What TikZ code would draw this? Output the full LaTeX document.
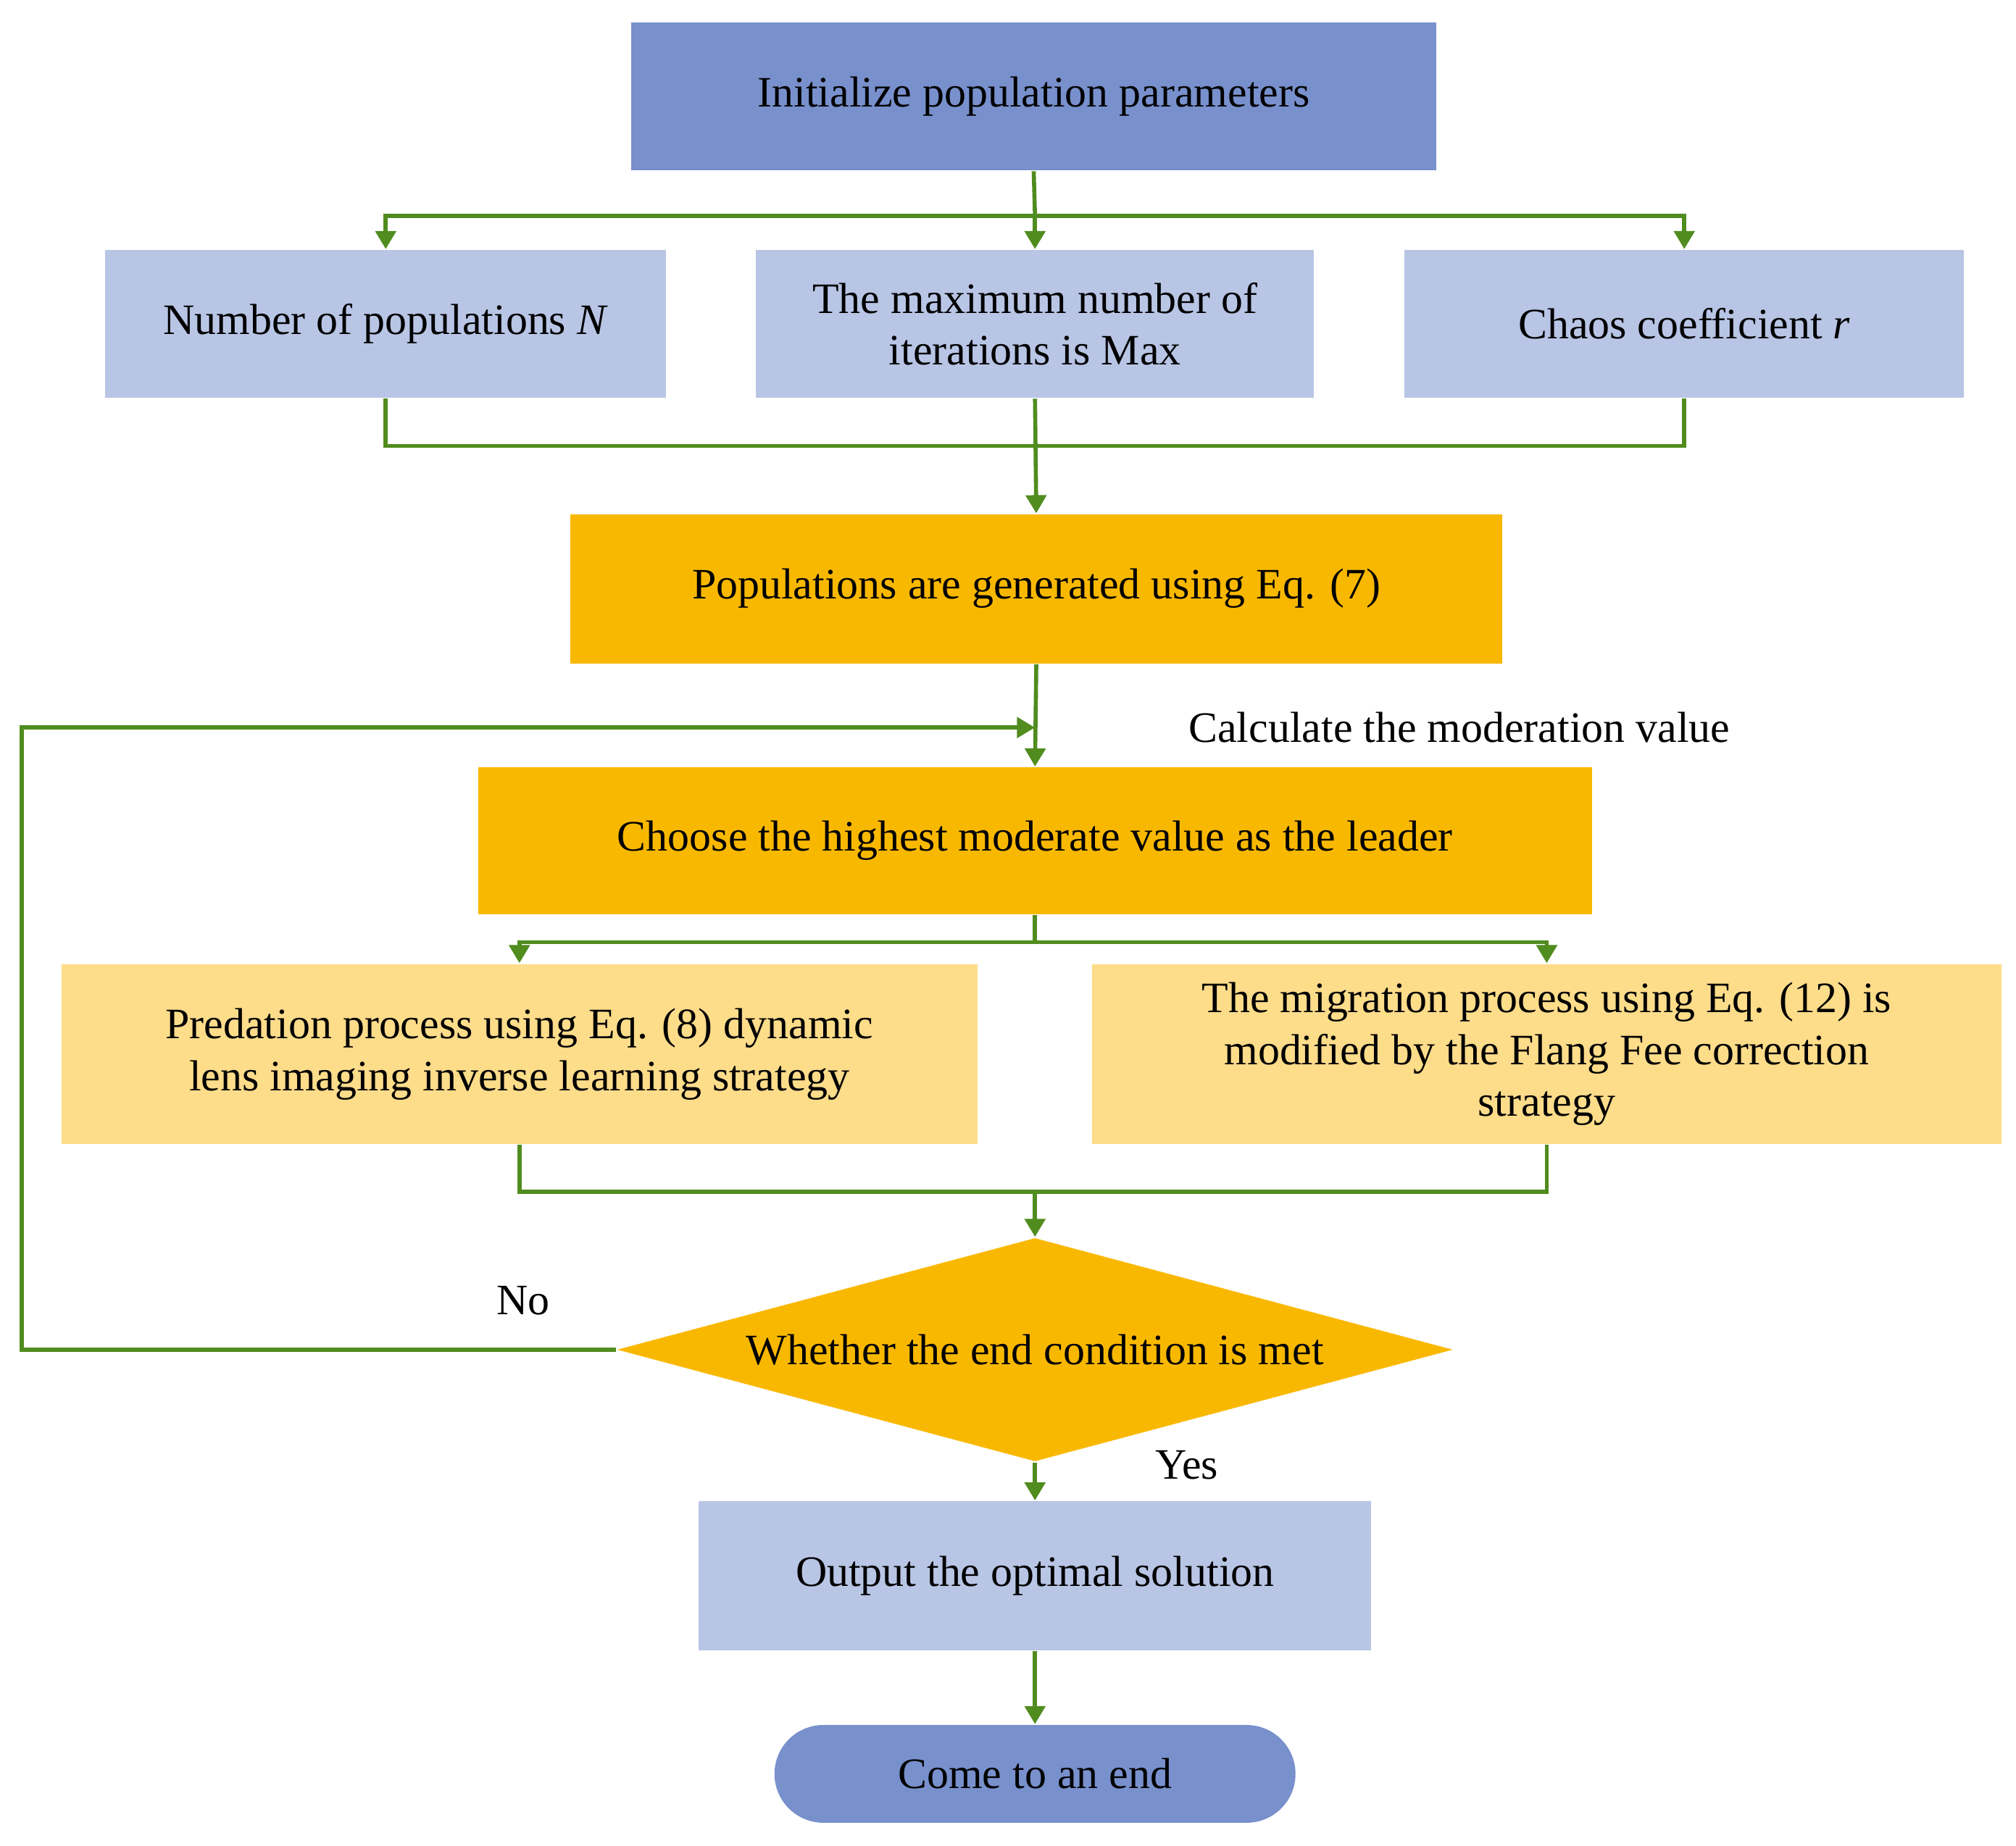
\documentclass[tikz,border=0pt]{standalone}
\usepackage{fontspec}
\setmainfont{Liberation Serif}
\usetikzlibrary{shapes.geometric,arrows.meta}
\definecolor{dblue}{RGB}{120,144,204}
\definecolor{lblue}{RGB}{184,197,229}
\definecolor{orng}{RGB}{249,184,0}
\definecolor{lyel}{RGB}{253,220,138}
\definecolor{grn}{RGB}{80,140,30}
\begin{document}
\begin{tikzpicture}[x=0.01cm,y=-0.01cm,
  every node/.style={font=\fontsize{9.6}{11.5}\selectfont},
  box/.style={draw=none,minimum height=1.15cm,align=center,inner sep=0},
  ln/.style={draw=grn,line width=0.9pt},
  ar/.style={ln,-{Triangle[length=4pt,width=4.5pt]}}]
\useasboundingbox (0,0) rectangle (1568,1436);
\node[box,fill=dblue,minimum width=6.26cm] (init) at (804,75) {Initialize population parameters};
\node[box,fill=lblue,minimum width=4.36cm] (n) at (300,252) {Number of populations \textit{N}};
\node[box,fill=lblue,minimum width=4.34cm] (m) at (805,252) {The maximum number of\\iterations is Max};
\node[box,fill=lblue,minimum width=4.35cm] (r) at (1310,252) {Chaos coefficient \textit{r}};
\node[box,fill=orng,minimum width=7.24cm,minimum height=1.16cm] (pop) at (806,458) {Populations are generated using Eq. (7)};
\node[box,fill=orng,minimum width=8.66cm,minimum height=1.14cm] (ch) at (805,654) {Choose the highest moderate value as the leader};
\node[box,fill=lyel,minimum width=7.12cm,minimum height=1.4cm] (pr) at (404,820) {Predation process using Eq. (8) dynamic\\lens imaging inverse learning strategy};
\node[box,fill=lyel,minimum width=7.07cm,minimum height=1.4cm] (mi) at (1203,820) {The migration process using Eq. (12) is\\modified by the Flang Fee correction\\strategy};
\node[diamond,fill=orng,minimum width=6.5cm,minimum height=1.74cm,inner sep=0,aspect=3.7] (d) at (805,1050) {Whether the end condition is met};
\node[box,fill=lblue,minimum width=5.23cm,minimum height=1.16cm] (out) at (805,1226) {Output the optimal solution};
\node[box,fill=dblue,rounded corners=0.38cm,minimum width=4.05cm,minimum height=0.76cm] (end) at (805,1380) {Come to an end};
\node (calc) at (1135,566) {Calculate the moderation value};
\node (no) at (407,1012) {No};
\node (yes) at (923,1140) {Yes};
\coordinate (s1) at (805,168);
\coordinate (j1) at (805,347);
\coordinate (lp) at (805,566);
\coordinate (s2) at (805,733);
\coordinate (j2) at (805,927);
\draw[ln] (init.south) -- (s1);
\draw[ar] (s1) -| (n.north);
\draw[ar] (s1) -- (m.north);
\draw[ar] (s1) -| (r.north);
\draw[ln] (n.south) |- (j1);
\draw[ln] (r.south) |- (j1);
\draw[ar] (m.south) -- (pop.north);
\draw[ar] (pop.south) -- (ch.north);
\draw[ln] (ch.south) -- (s2);
\draw[ar] (s2) -| (pr.north);
\draw[ar] (s2) -| (mi.north);
\draw[ln] (pr.south) |- (j2);
\draw[ln] (mi.south) |- (j2);
\draw[ar] (j2) -- (d.north);
\draw[ar] (d.west) -- (17,1050) -- (17,566) -- (lp);
\draw[ar] (d.south) -- (out.north);
\draw[ar] (out.south) -- (end.north);
\end{tikzpicture}
\end{document}
